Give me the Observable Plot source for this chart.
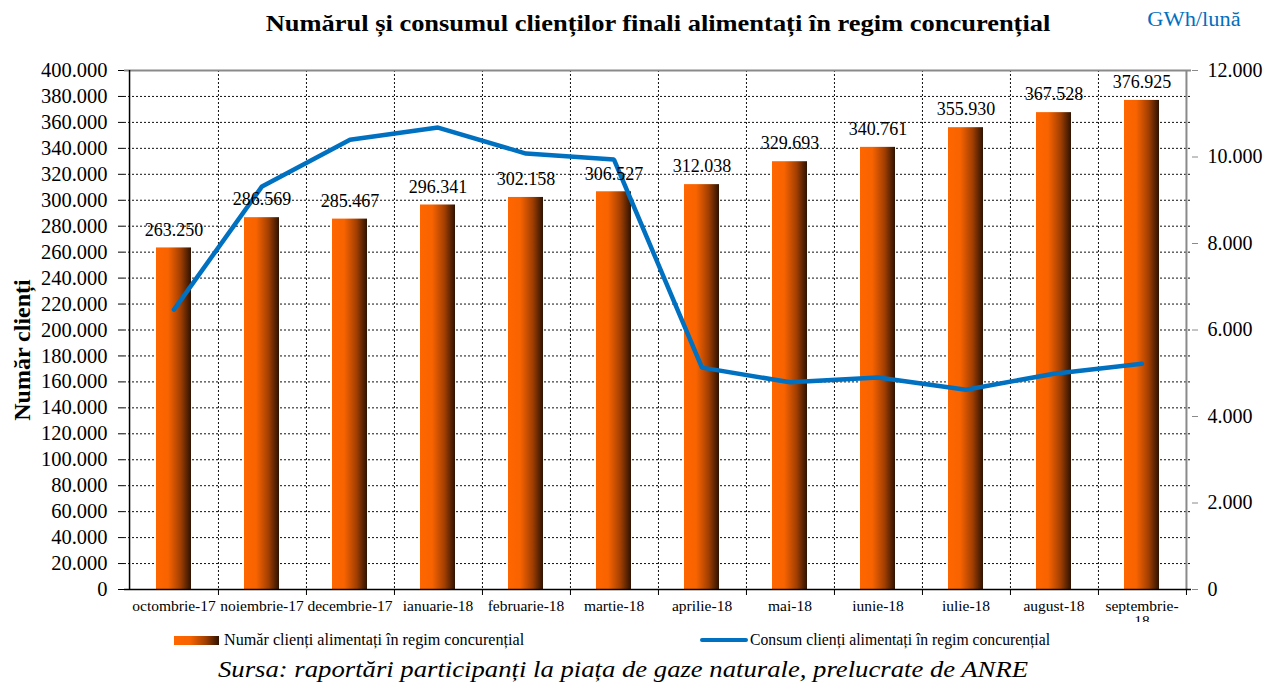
<!DOCTYPE html>
<html><head><meta charset="utf-8">
<script src="https://cdn.jsdelivr.net/npm/d3@7"></script>
<script src="https://cdn.jsdelivr.net/npm/@observablehq/plot@0.6"></script>
<style>
body{margin:0;background:#fff;font-family:"Liberation Serif","Times New Roman",serif;}
#wrap{position:relative;width:1270px;height:684px;overflow:hidden;background:#fff;}
.abs{position:absolute;white-space:nowrap;line-height:1;}
#chart svg, #chart svg text{font-family:"Liberation Serif","Times New Roman",serif !important;}
</style></head><body><div id="wrap">
<div id="chart" class="abs" style="left:0;top:0"></div>
<div class="abs" style="left:658px;top:12px;transform:translateX(-50%) scaleX(1.15);font-weight:bold;font-size:23px;color:#000">Numărul și consumul clienților finali alimentați în regim concurențial</div>
<div class="abs" style="left:1194px;top:9px;transform:translateX(-50%) scaleX(1.12);font-size:20px;color:#0070c0">GWh/lună</div>
<div class="abs" style="left:22px;top:350px;transform:translate(-50%,-50%) rotate(-90deg);font-weight:bold;font-size:24px;color:#000">Număr clienți</div>
<div class="abs" style="left:0;top:622px;width:1270px;height:62px;background:#fff"></div>
<div class="abs" style="left:174px;top:636px;width:45px;height:9px;background:linear-gradient(to right,#ff6600 0%,#f86300 35%,#a23f00 70%,#2e1200 100%)"></div>
<div class="abs" style="left:224px;top:632px;font-size:16px;transform-origin:left center;transform:scaleX(1.01)">Număr clienți alimentați în regim concurențial</div>
<div class="abs" style="left:700px;top:638px;width:48px;height:4px;border-radius:2px;background:#0070c0"></div>
<div class="abs" style="left:750px;top:632px;font-size:16px;transform-origin:left center;transform:scaleX(0.98)">Consum clienți alimentați în regim concurențial</div>
<div class="abs" style="left:623px;top:658px;transform:translateX(-50%) scaleX(1.16);font-style:italic;font-size:23px">Sursa: raportări participanți la piața de gaze naturale, prelucrate de ANRE</div>
</div>
<script>
const months = ["octombrie-17","noiembrie-17","decembrie-17","ianuarie-18","februarie-18","martie-18","aprilie-18","mai-18","iunie-18","iulie-18","august-18","septembrie-18"];
const clients = [263250, 286569, 285467, 296341, 302158, 306527, 312038, 329693, 340761, 355930, 367528, 376925];
const consum = [6470, 9320, 10400, 10680, 10080, 9940, 5130, 4790, 4900, 4620, 4990, 5220];
const leftTicks = [0,20000,40000,60000,80000,100000,120000,140000,160000,180000,200000,220000,240000,260000,280000,300000,320000,340000,360000,380000,400000];
const rightTicks = [0,2000,4000,6000,8000,10000,12000];
const leftMax = 400000, rightMax = 12000;
const k = leftMax / rightMax;

const data = months.map((m,i)=>({month:m, clients:clients[i], consum:consum[i]}));
const loc = d3.formatLocale({decimal:",", thousands:".", grouping:[3], currency:["",""]});
const fmt = loc.format(",");

const W = 1270, ML = 124, MR = 79;
const step = (W - ML - MR) / months.length;
const FF = "Liberation Serif";

const plot = Plot.plot({
  width: W, height: 620,
  marginLeft: ML, marginRight: MR, marginTop: 70, marginBottom: 31,
  style: {fontFamily: FF, background: "transparent", overflow: "visible"},
  x: {domain: months, paddingInner: 0.6, paddingOuter: 0.3, align: 0.5},
  y: {domain: [0, leftMax]},
  marks: [
    Plot.ruleY(leftTicks.slice(1, -1), {stroke: "#111", strokeDasharray: "2,2", strokeWidth: 1}),
    Plot.ruleX(months.slice(0, -1), {x: d => d, dx: step/2, stroke: "#111", strokeDasharray: "2,2", strokeWidth: 1}),
    Plot.ruleX(months, {x: d => d, dx: step/2, y1: 0, y2: 0, insetBottom: -6, stroke: "#000"}),
    Plot.ruleY([leftMax], {stroke: "#8a8a8a", strokeWidth: 2}),
    Plot.ruleX(months.slice(-1), {x: d => d, dx: step/2, stroke: "#8a8a8a", strokeWidth: 2}),
    Plot.barY(data, {x: "month", y: "clients", fill: "url(#barGrad)"}),
    Plot.ruleY([0], {stroke: "#000", strokeWidth: 1.5}),
    Plot.ruleX(months.slice(0, 1), {x: d => d, dx: -step/2, stroke: "#000", strokeWidth: 1.5}),
    Plot.axisY({anchor: "left", ticks: leftTicks, tickFormat: fmt, tickSize: 6, tickPadding: 11, fontSize: 20.5, fontFamily: FF, label: null, fill: "#000", stroke: "#000"}),
    Plot.axisY({anchor: "right", ticks: rightTicks.map(v => v * k), tickFormat: d => fmt(Math.round(d / k)), tickSize: 6, tickPadding: 10, fontSize: 20, fontFamily: FF, label: null, stroke: "#8a8a8a", fill: "#000"}),
    Plot.axisX({tickSize: 0, tickPadding: 10, fontSize: 15.5, fontFamily: FF, label: null, fill: "#000", tickFormat: d => d === "septembrie-18" ? "septembrie-\n18" : d}),
    Plot.lineY(data, {x: "month", y: d => d.consum * k, stroke: "#0070c0", strokeWidth: 4.5, strokeLinejoin: "miter", strokeLinecap: "round"}),
    Plot.text(data, {x: "month", y: "clients", text: d => fmt(d.clients), dy: -18, fontSize: 18, fontFamily: FF, fill: "#000"})
  ]
});
d3.select(plot).insert("defs", ":first-child").html(
  '<linearGradient id="barGrad" x1="0" x2="1" y1="0" y2="0">' +
  '<stop offset="0" stop-color="#ff6600"/><stop offset="0.35" stop-color="#f86300"/>' +
  '<stop offset="0.7" stop-color="#a23f00"/><stop offset="1" stop-color="#2e1200"/></linearGradient>');
document.getElementById("chart").appendChild(plot);
</script>
</body></html>
